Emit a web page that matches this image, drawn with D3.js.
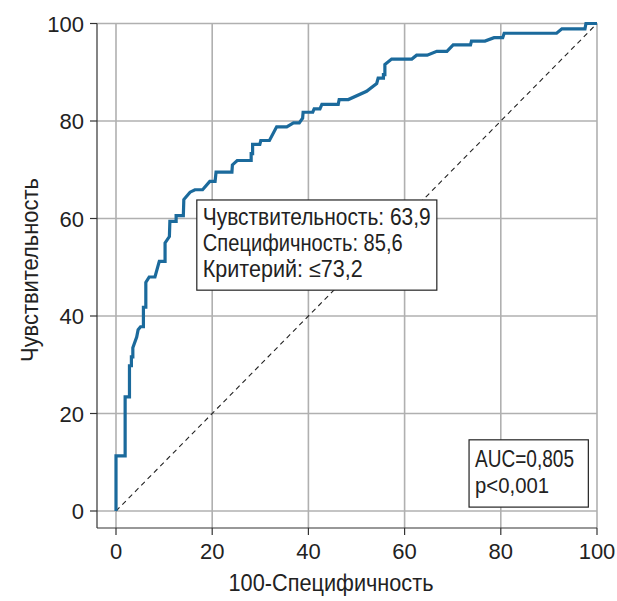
<!DOCTYPE html>
<html>
<head>
<meta charset="utf-8">
<script src="https://cdn.jsdelivr.net/npm/d3@7"></script>
<style>
  body { margin:0; background:#fff; }
  text { fill:#222; }
  .tick-label { font-family:"Liberation Sans", Arial, sans-serif; font-size:22px; }
  .narrow { font-family:"Liberation Sans", Arial, sans-serif; font-size:23px; }
</style>
</head>
<body>
<svg id="chart"></svg>
<script>
const W = 617, H = 601;

// ROC curve points
const fpr = [0,0,1.9,1.9,2.8,2.8,3.2,3.2,3.5,3.5,4.3,4.6,5.1,5.7,5.7,6.2,6.2,6.9,8.1,9.0,10.2,10.2,11.1,11.2,12.5,12.5,14.0,14.1,15.4,16.4,18.0,19.5,20.6,20.8,24.1,24.2,25.2,28.1,28.1,28.4,28.4,29.9,30.1,31.9,33.4,35.5,36.9,38.1,38.8,38.9,40.9,41.2,42.4,42.8,46.2,46.4,48.3,52.1,54.2,54.5,55.6,55.6,55.9,55.9,57.3,61.5,62.5,64.7,66.7,68.8,70.1,73.7,73.9,76.7,78.6,80.4,80.7,91.6,92.7,97.5,97.7,100];
const tpr = [0,11.3,11.3,23.4,23.4,29.8,29.8,31.6,31.6,33.5,35.7,37.2,37.8,37.8,41.8,41.8,46.9,48.0,48.0,51.2,51.2,55.0,56.3,59.4,59.4,60.6,60.6,63.9,65.4,65.9,65.9,67.6,67.6,69.5,69.5,71.0,71.9,71.9,73.3,73.3,75.2,75.2,76.0,76.0,78.8,78.8,79.6,79.6,80.6,81.8,81.8,82.5,82.5,83.4,83.4,84.4,84.4,86.1,87.7,88.8,88.8,89.5,89.5,91.6,92.7,92.7,93.5,93.5,94.3,94.3,95.6,95.6,96.4,96.4,97.1,97.1,98.0,98.0,98.9,98.9,100,100];

const ticks = [0,20,40,60,80,100];
const cutoffLines = ['Чувствительность: 63,9', 'Специфичность: 85,6', 'Критерий: ≤73,2'];
const aucLines = ['AUC=0,805', 'p<0,001'];

const x = d3.scaleLinear().domain([0,100]).range([116,597]);
const y = d3.scaleLinear().domain([0,100]).range([511,23.5]);

const svg = d3.select('#chart').attr('width',W).attr('height',H);

// the original face is a little different from Liberation Sans:
// scale each string horizontally to the width measured in the picture
function fitText(parent, str, width, place, anchor) {
  const t = parent.append('text').attr('class','narrow')
    .attr('text-anchor', anchor || 'start').text(str);
  const k = width / t.node().getComputedTextLength();
  t.attr('transform', `${place} scale(${k},1)`);
  return t;
}

// grid
const grid = svg.append('g').attr('stroke','#b0b0b0').attr('stroke-width',1.6);
ticks.forEach(t => {
  grid.append('line').attr('x1',x(t)).attr('x2',x(t)).attr('y1',y(100)).attr('y2',528);
  grid.append('line').attr('x1',97).attr('x2',x(100)).attr('y1',y(t)).attr('y2',y(t));
});

// frame axes (offset from the plot)
const ax = svg.append('g').attr('stroke','#333').attr('stroke-width',1.2);
ax.append('line').attr('x1',97).attr('x2',97).attr('y1',y(100)).attr('y2',528);
ax.append('line').attr('x1',97).attr('x2',x(100)).attr('y1',528).attr('y2',528);
ticks.forEach(t => {
  ax.append('line').attr('x1',x(t)).attr('x2',x(t)).attr('y1',528).attr('y2',535);
  ax.append('line').attr('x1',90).attr('x2',97).attr('y1',y(t)).attr('y2',y(t));
});

svg.append('g').selectAll('text').data(ticks).join('text')
  .attr('class','tick-label').attr('x',d => x(d)).attr('y',559)
  .attr('text-anchor','middle').text(d => d);
svg.append('g').selectAll('text').data(ticks).join('text')
  .attr('class','tick-label').attr('x',84).attr('y',d => y(d)+8)
  .attr('text-anchor','end').text(d => d);

fitText(svg, '100-Специфичность', 205, 'translate(331,591)', 'middle');
fitText(svg, 'Чувствительность', 184, 'translate(38,270) rotate(-90)', 'middle');

// diagonal reference
svg.append('line').attr('x1',x(0)).attr('y1',y(0)).attr('x2',x(100)).attr('y2',y(100))
  .attr('stroke','#222').attr('stroke-width',1.1).attr('stroke-dasharray','5,4');

// ROC curve
const pts = fpr.map((v,i) => [v, tpr[i]]);
svg.append('path').datum(pts)
  .attr('d', d3.line().x(d => x(d[0])).y(d => y(d[1])))
  .attr('fill','none').attr('stroke','#1b6a9c').attr('stroke-width',3.2)
  .attr('stroke-linejoin','miter');

// annotation boxes
function box(x0, y0, w, h, lines, widths, lh, dy) {
  const g = svg.append('g');
  g.append('rect').attr('x',x0).attr('y',y0).attr('width',w).attr('height',h)
    .attr('fill','#fff').attr('stroke','#222').attr('stroke-width',1.2);
  lines.forEach((s,i) => fitText(g, s, widths[i], `translate(${x0+6},${y0+dy+i*lh})`));
}
box(x(16.8), y(63.8), x(66.7)-x(16.8), y(45.3)-y(63.8), cutoffLines, [228,200,160], 26, 25);
box(x(73.4), y(14.6), x(98.2)-x(73.4), y(0.8)-y(14.6), aucLines, [99,74], 26, 27);
</script>
</body>
</html>
